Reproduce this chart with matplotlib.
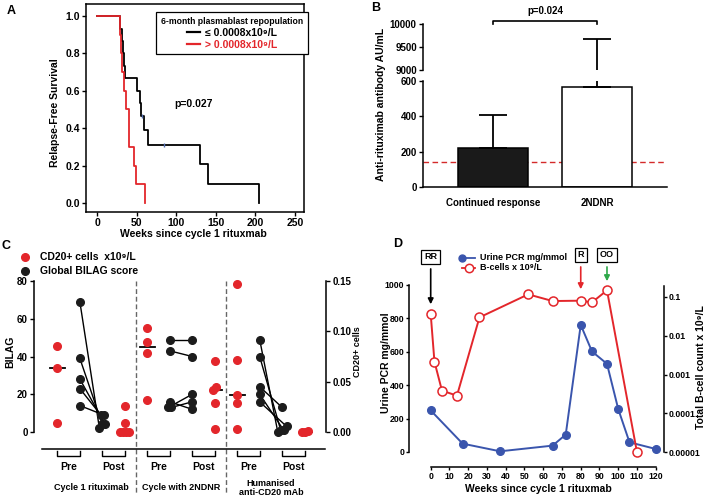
import numpy as np
import matplotlib
matplotlib.use("Agg")
import matplotlib.pyplot as plt
from matplotlib.lines import Line2D

plt.rcParams['font.family'] = ['Liberation Sans', 'DejaVu Sans']
plt.rcParams['font.weight'] = 'bold'
plt.rcParams['axes.labelweight'] = 'bold'

# ---------------- data ----------------
# A: Kaplan-Meier relapse-free survival
km_low_t = [0, 29, 31, 33, 34, 35, 50, 54, 56, 59, 65, 130, 140, 204]
km_low_s = [1.0, 0.933, 0.867, 0.80, 0.733, 0.667, 0.60, 0.533, 0.467, 0.39, 0.31, 0.207, 0.103, 0.0]
km_low_cens_t = [57, 85]
km_low_cens_s = [0.467, 0.31]
km_high_t = [0, 29, 30, 31, 34, 37, 40, 47, 49, 61]
km_high_s = [1.0, 0.9, 0.8, 0.7, 0.6, 0.5, 0.3, 0.2, 0.1, 0.0]

# B: anti-rituximab antibody
b_groups = ['Continued response', '2NDNR']
b_means = [220, 565]
b_err = [188, 9105]
b_threshold = 140

# C: CD20+ cells (x10^9/L) and global BILAG, per cycle (pre / post)
c_cycles = ['Cycle 1 rituximab', 'Cycle with 2NDNR', 'Humanised\nanti-CD20 mAb']
cd20_pre = [[0.085, 0.064, 0.009],
            [0.1037, 0.0894, 0.0785, 0.032],
            [0.147, 0.072, 0.037, 0.0285, 0.003]]
cd20_post = [[0.0, 0.0, 0.0, 0.0, 0.0255, 0.009],
             [0.071, 0.045, 0.042, 0.0285, 0.003],
             [0.0, 0.001, 0.0]]
bilag_pre = [[69, 39, 28, 23, 14],
             [49, 43, 16, 13, 13],
             [49, 40, 24, 20, 16]]
bilag_post = [[2, 4, 4, 9, 9],
              [49, 40, 12, 20, 16],
              [0, 1, 13, 1, 3]]

# D: single patient time course
pcr_wk = [0, 17, 37, 65, 72, 80, 86, 94, 100, 106, 120]
pcr_val = [249, 50, 4, 38, 104, 761, 602, 528, 257, 58, 18]
bcell_wk = [0, 2, 6, 14, 26, 52, 65, 80, 86, 94, 110]
bcell_val = [0.0359, 0.00214, 0.000385, 0.000286, 0.0294, 0.115, 0.0774, 0.079, 0.0715, 0.146, 0.00001]
events = ['RR', 'R', 'OO']
event_wk = [0, 80, 94]

RED = '#e3262b'
BLUE = '#3a55ad'
GREEN = '#2fa84a'
NARROW = ['Liberation Sans Narrow', 'Liberation Sans', 'DejaVu Sans']

W, H = 708, 500
fig = plt.figure(figsize=(W / 100, H / 100), dpi=100)


def rect(l, t, r, b):
    return [l / W, 1 - b / H, (r - l) / W, (b - t) / H]


def fx(x):
    return x / W


def fy(y):
    return 1 - y / H


def style(ax, size=7, length=3, pad=1.5, family=None):
    ax.tick_params(direction='out', length=length, width=1, labelsize=size, pad=pad)
    for s in ax.spines.values():
        s.set_linewidth(1.1)
    for lab in ax.get_xticklabels() + ax.get_yticklabels():
        lab.set_fontweight('bold')
        if family:
            lab.set_family(family)


# ---------------- A ----------------
axA = fig.add_axes(rect(86, 4, 304, 212))
axA.step(km_low_t, km_low_s, where='post', color='k', lw=1.3)
axA.step(km_high_t, km_high_s, where='post', color=RED, lw=1.3)
axA.plot(km_low_cens_t, km_low_cens_s, ls='none', marker='|', ms=3, color='#5570b0', mew=1)
axA.set_xlim(-13.9, 261.4)
axA.set_ylim(-0.048, 1.064)
axA.set_xticks(range(0, 251, 50))
axA.set_yticks(np.arange(0, 1.01, 0.2))
axA.set_yticklabels(['%.1f' % v for v in np.arange(0, 1.01, 0.2)])
style(axA, 7.5)
handles = [Line2D([], [], color='k', lw=1.6), Line2D([], [], color=RED, lw=1.6)]
leg = axA.legend(handles, ['\u2264 0.0008x10\u2079/L', '> 0.0008x10\u2079/L'],
                 title='6-month plasmablast repopulation', loc='upper right',
                 bbox_to_anchor=(1.018, 0.962), borderaxespad=0, fancybox=False, framealpha=1,
                 edgecolor='k', fontsize=7.5, handlelength=1.2,
                 title_fontproperties={'weight': 'bold', 'size': 6.2},
                 borderpad=0.45, labelspacing=0.2, handletextpad=0.5)
leg.get_frame().set_linewidth(0.9)
for t, c in zip(leg.get_texts(), ['k', RED]):
    t.set_color(c)
    t.set_fontweight('bold')
axA.text(122, 0.53, 'p=0.027', fontsize=7.5, fontweight='bold', ha='center', va='center')
fig.text(fx(55), fy(113), 'Relapse-Free Survival', rotation=90, ha='center', va='center',
         fontsize=7.5, fontweight='bold')
fig.text(fx(193), fy(234), 'Weeks since cycle 1 rituxmab', ha='center', va='center',
         fontsize=7.5, fontweight='bold')
fig.text(fx(11), fy(11), 'A', fontsize=9, fontweight='bold', ha='center', va='center')

# ---------------- B ----------------
xb = np.arange(len(b_groups))
axB = fig.add_axes(rect(423, 81, 667, 187))
axB2 = fig.add_axes(rect(423, 24, 667, 70))
for ax in (axB, axB2):
    ax.axhline(b_threshold, color='#d42a2a', ls=(0, (4, 2.5)), lw=1, zorder=1)
    ax.bar(xb, b_means, width=0.673, color=['#1a1a1a', 'white'], edgecolor='k', lw=1.1, zorder=2)
    ax.errorbar(xb, b_means, yerr=[[0, 0], b_err], fmt='none', ecolor='k', elinewidth=1.3,
                capsize=10, capthick=1.3, zorder=3)
    ax.set_xlim(-0.673, 1.673)
    ax.spines['top'].set_visible(False)
    ax.spines['right'].set_visible(False)
axB.set_ylim(0, 600)
axB.set_yticks([0, 200, 400, 600])
axB.spines['left'].set_bounds(0, 600)
axB.set_xticks(xb)
axB.set_xticklabels(b_groups)
style(axB, 7)
axB.tick_params(axis='x', length=0, pad=8, labelsize=7)
axB2.set_ylim(9000, 10000)
axB2.set_yticks([9000, 9500, 10000])
axB2.spines['bottom'].set_visible(False)
axB2.set_xticks([])
style(axB2, 7)
axB2.plot([0, 0, 1, 1], [10000, 10075, 10075, 10000], color='k', lw=1.2, clip_on=False)
axB2.text(0.5, 10280, 'p=0.024', ha='center', va='center', fontsize=7, fontweight='bold')
fig.text(fx(381), fy(104), 'Anti-rituximab antibody AU/mL', rotation=90, ha='center',
         va='center', fontsize=7.5, fontweight='bold')
fig.text(fx(376), fy(8), 'B', fontsize=9, fontweight='bold', ha='center', va='center')

# ---------------- C ----------------
axC = fig.add_axes(rect(34, 281, 326, 449))
axCr = axC.twinx()
k = 80 / 0.15  # CD20 -> BILAG axis units


def swarm(vals, tol, step=0.13):
    vals = np.asarray(vals, float)
    order = np.argsort(vals)
    off = np.zeros(len(vals))
    groups, cur = [], [order[0]]
    for i in order[1:]:
        if vals[i] - vals[cur[-1]] < tol:
            cur.append(i)
        else:
            groups.append(cur)
            cur = [i]
    groups.append(cur)
    for g in groups:
        n = len(g)
        for j, i in enumerate(g):
            off[i] = (j - (n - 1) / 2) * step
    return off


for g in range(3):
    base = 4 * g
    xr_pre, xk_pre, xk_post, xr_post = base, base + 1, base + 2, base + 3
    pre = np.array(cd20_pre[g]) * k
    post = np.array(cd20_post[g]) * k
    axC.plot([xr_pre - 0.33, xr_pre + 0.33], [np.median(pre)] * 2, color='k', lw=1.3, zorder=3)
    axC.plot([xr_post - 0.1, xr_post + 0.33], [np.median(post)] * 2, color='k', lw=1.3, zorder=3)
    axC.plot(xr_pre + swarm(pre, 2.6), pre, 'o', color=RED, ms=5.5, zorder=4, clip_on=False)
    axC.plot(xr_post + swarm(post, 2.6), post, 'o', color=RED, ms=5.5, zorder=4, clip_on=False)
    bp = np.array(bilag_pre[g])
    bq = np.array(bilag_post[g])
    xp = xk_pre + swarm(bp, 0.5)
    xq = xk_post + swarm(bq, 2.6)
    for a, b, c, d in zip(xp, bp, xq, bq):
        axC.plot([a, c], [b, d], color='k', lw=1, zorder=2)
    axC.plot(xp, bp, 'o', color='#1c1c1c', ms=5.5, zorder=4, clip_on=False)
    axC.plot(xq, bq, 'o', color='#1c1c1c', ms=5.5, zorder=4, clip_on=False)
    # Pre / Post brackets
    for (a, b), lab in (((xr_pre, xk_pre), 'Pre'), ((xk_post, xr_post), 'Post')):
        axC.plot([a, a, b, b], [-10.3, -12.7, -12.7, -10.3], color='k', lw=1, clip_on=False)
        axC.text((a + b) / 2, -18.6, lab, ha='center', va='center', fontsize=7.5, fontweight='bold')
    axC.text(base + 1.5, -29.6, c_cycles[g], ha='center', va='center', fontsize=6.5,
             fontweight='bold', linespacing=1.1)
for xd in (3.5, 7.5):
    axC.plot([xd, xd], [80, -32.3], color='#666666', ls=(0, (3.5, 2)), lw=1, clip_on=False)

axC.set_xlim(-1.04, 11.95)
axC.set_ylim(-9, 80)
axCr.set_ylim(-9 / k, 0.15)
axC.set_yticks(range(0, 81, 20))
axCr.set_yticks([0, 0.05, 0.10, 0.15])
axCr.set_yticklabels(['0.00', '0.05', '0.10', '0.15'])
axC.set_xticks([])
for s in ('top',):
    axC.spines[s].set_visible(False)
    axCr.spines[s].set_visible(False)
axC.spines['right'].set_visible(False)
axCr.spines['left'].set_visible(False)
axCr.spines['bottom'].set_visible(False)
axC.spines['left'].set_bounds(0, 80)
axCr.spines['right'].set_bounds(0, 0.15)
axC.spines['bottom'].set_bounds(-0.7, 11.9)
style(axC, 7)
style(axCr, 7)
fig.text(fx(10), fy(352), 'BILAG', rotation=90, ha='center', va='center', fontsize=7.5, fontweight='bold')
fig.text(fx(357), fy(352), 'CD20+ cells', rotation=90, ha='center', va='center', fontsize=6.5, fontweight='bold')
fig.add_artist(Line2D([fx(25)], [fy(257)], marker='o', color=RED, ms=5.5, transform=fig.transFigure))
fig.add_artist(Line2D([fx(25)], [fy(271)], marker='o', color='#1c1c1c', ms=5.5, transform=fig.transFigure))
fig.text(fx(40), fy(257), 'CD20+ cells  x10\u2079/L', va='center', fontsize=7.5, fontweight='bold')
fig.text(fx(40), fy(271), 'Global BILAG score', va='center', fontsize=7.5, fontweight='bold')
fig.text(fx(6), fy(246), 'C', fontsize=9, fontweight='bold', ha='center', va='center')

# ---------------- D ----------------
axD = fig.add_axes(rect(409, 285, 664, 467))
axDr = axD.twinx()
axD.plot(pcr_wk, pcr_val, '-o', color=BLUE, ms=5.5, lw=1.4, zorder=3, clip_on=False)
axDr.plot(bcell_wk, bcell_val, '-o', color=RED, mfc='white', mew=1.1, ms=6.5, lw=1.4,
          zorder=3, clip_on=False)
axD.set_xlim(-11.57, 124.4)
axD.set_ylim(-90, 1000)
axDr.set_yscale('log')
axDr.set_ylim(10 ** -5.378, 10 ** -0.699)
axD.set_xticks(range(0, 121, 10))
axD.set_yticks(range(0, 1001, 200))
axDr.set_yticks([1e-5, 1e-4, 1e-3, 1e-2, 1e-1])
axDr.set_yticklabels(['0.00001', '0.0001', '0.001', '0.01', '0.1'])
axDr.yaxis.set_minor_locator(matplotlib.ticker.NullLocator())
for ax in (axD, axDr):
    ax.spines['top'].set_visible(False)
axD.spines['right'].set_visible(False)
axDr.spines['left'].set_visible(False)
axDr.spines['bottom'].set_visible(False)
axD.spines['left'].set_bounds(0, 1000)
axD.spines['bottom'].set_bounds(0, 120)
axDr.spines['right'].set_bounds(1e-5, 0.19)
style(axD, 6.3, length=2.5, pad=0.8, family=NARROW)
style(axDr, 6.3, length=2.5, pad=0.8, family=NARROW)
fig.text(fx(386), fy(363), 'Urine PCR mg/mmol', rotation=90, ha='center', va='center', fontsize=7.5, fontweight='bold')
fig.text(fx(701), fy(367), 'Total B-cell count x 10\u2079/L', rotation=90, ha='center', va='center', fontsize=7.5, fontweight='bold')
fig.text(fx(538), fy(489), 'Weeks since cycle 1 rituxmab', ha='center', va='center', fontsize=7.5, fontweight='bold')
fig.text(fx(398), fy(244), 'D', fontsize=9, fontweight='bold', ha='center', va='center')

arrow_col = ['k', RED, GREEN]
arrow_tip = [868, 958, 1006]
box_y = [1168, 1180, 1180]
for name, wk, col, tip, by in zip(events, event_wk, arrow_col, arrow_tip, box_y):
    axD.annotate('', xy=(wk, tip), xytext=(wk, by - 55), annotation_clip=False,
                 arrowprops=dict(arrowstyle='-|>', color=col, lw=1.2, mutation_scale=8))
    axD.text(wk, by, name, ha='center', va='center', fontsize=6.5, fontweight='bold',
             clip_on=False, bbox=dict(boxstyle='square,pad=0.3', fc='white', ec='k', lw=0.9))

fig.add_artist(Line2D([fx(462), fx(475)], [fy(258)] * 2, marker='o', color=BLUE, ms=5,
                      lw=1.3, markevery=[0], transform=fig.transFigure))
fig.add_artist(Line2D([fx(462), fx(475)], [fy(268)] * 2, color=RED, lw=1.3, transform=fig.transFigure))
fig.add_artist(Line2D([fx(468.5)], [fy(268)], marker='o', color=RED, mfc='white', mew=1.1, ms=6,
                      transform=fig.transFigure))
fig.text(fx(480), fy(258), 'Urine PCR mg/mmol', va='center', fontsize=6.5, fontweight='bold')
fig.text(fx(480), fy(268), 'B-cells x 10\u2079/L', va='center', fontsize=6.5, fontweight='bold')

fig.savefig('out.png', dpi=100)
